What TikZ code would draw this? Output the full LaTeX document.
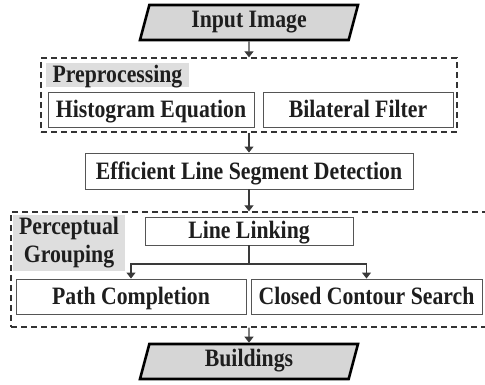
\documentclass[tikz,border=0pt]{standalone}
\usepackage{fontspec}
\setmainfont{Liberation Serif}[FakeStretch=0.87]
\usetikzlibrary{arrows.meta,shapes.geometric}
\definecolor{iofill}{HTML}{D6D6D6}
\definecolor{tagc}{HTML}{DEDEDE}
\definecolor{boxc}{HTML}{555555}
\definecolor{dashc}{HTML}{333333}
\definecolor{arrc}{HTML}{3A3A3A}
\definecolor{txtc}{HTML}{1E1E1E}
\begin{document}
\begin{tikzpicture}[x=1pt,y=-1pt,
  font=\fontsize{25}{28}\selectfont\bfseries, text=txtc,
  box/.style={draw=boxc, line width=0.9pt, fill=white, inner sep=0pt,
    minimum height=35pt, text height=16pt, text depth=0pt},
  io/.style={trapezium, trapezium left angle=67, trapezium right angle=113,
    trapezium stretches body, draw=black, line width=2.6pt, fill=iofill,
    inner sep=0pt, minimum width=218pt, minimum height=35pt,
    text height=16pt, text depth=6pt},
  group/.style={draw=dashc, dash pattern=on 6pt off 4pt, line width=1.3pt, inner sep=0pt},
  tag/.style={fill=tagc, inner sep=0pt},
  flow/.style={draw=arrc, line width=1.1pt, -{Triangle[width=9pt,length=6pt]}}]
\useasboundingbox (0,0) rectangle (485,385);

% dashed group frames
\node[group, minimum width=416pt, minimum height=74pt] (pre) at (249,95) {};
\node[group, minimum width=476pt, minimum height=115pt] (perc) at (249,269.5) {};

% preprocessing stage
\node[tag, minimum width=143pt, minimum height=24pt, text height=15pt, text depth=0pt] (pretag) at (117.5,75) {Preprocessing};
\node[box, minimum width=206pt] (hist) at (151,109.5) {Histogram Equation};
\node[box, minimum width=190pt] (bil) at (358,109.5) {Bilateral Filter};

% line segment detection
\node[box, minimum width=328pt, minimum height=36pt] (elsd) at (249,171) {Efficient Line Segment Detection};

% perceptual grouping stage
\node[tag, minimum width=112pt, minimum height=56pt, align=center] (perctag) at (69,243) {Perceptual\\Grouping};
\node[box, minimum width=208pt, minimum height=28pt] (link) at (249,231) {Line Linking};
\node[box, minimum width=230pt] (path) at (131,296.5) {Path Completion};
\node[box, minimum width=231pt] (closed) at (366.5,296.5) {Closed Contour Search};
\coordinate (split) at (249,264);

% input and output
\node[io] (in) at (249,22.5) {Input Image};
\node[io] (out) at (249,361.5) {Buildings};

% connectors
\draw[flow] (in) -- (pre.north);
\draw[flow] (pre.south) -- (elsd);
\draw[flow] (elsd) -- (perc.north);
\draw[flow] (link.south) -- (split) -| (path.north);
\draw[flow] (split) -| (closed.north);
\draw[flow] (perc.south) -- (out);
\end{tikzpicture}
\end{document}
